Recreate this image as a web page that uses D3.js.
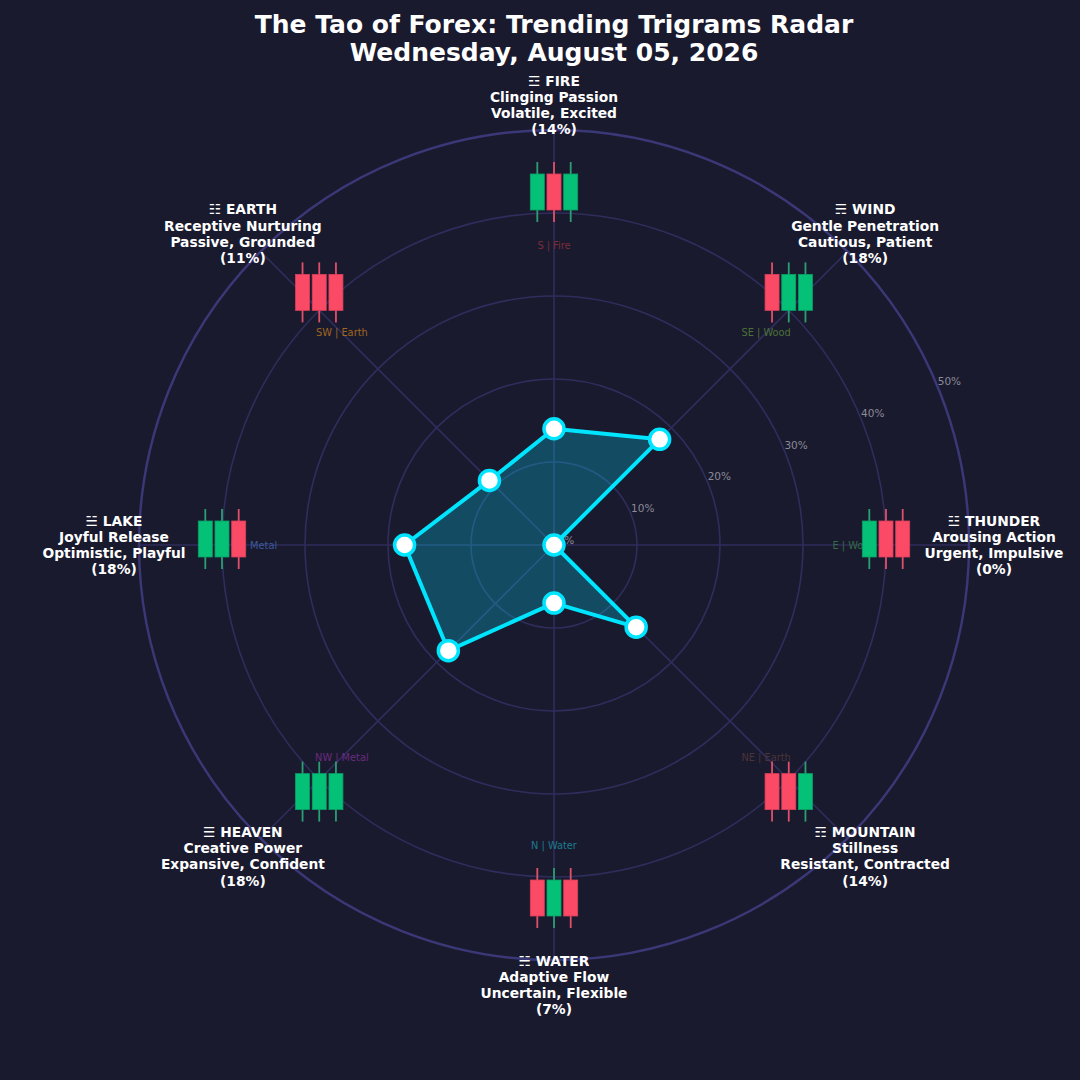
<!DOCTYPE html>
<html>
<head>
<meta charset="utf-8">
<script src="https://cdn.jsdelivr.net/npm/d3@7"></script>
<style>
  html, body { margin: 0; padding: 0; background: #1a1a2e; }
  svg { display: block; }
  text { font-family: "DejaVu Sans", sans-serif; }
</style>
</head>
<body>
<svg id="chart" width="1080" height="1080"></svg>
<script>
// ---------------- DATA ----------------
const titleLines = ["The Tao of Forex: Trending Trigrams Radar", "Wednesday, August 05, 2026"];
const trigrams   = ["FIRE", "WIND", "THUNDER", "MOUNTAIN", "WATER", "HEAVEN", "LAKE", "EARTH"];
const symbols    = ["☲", "☴", "☳", "☶", "☵", "☰", "☱", "☷"];
const qualities  = ["Clinging Passion", "Gentle Penetration", "Arousing Action", "Stillness",
                    "Adaptive Flow", "Creative Power", "Joyful Release", "Receptive Nurturing"];
const moods      = ["Volatile, Excited", "Cautious, Patient", "Urgent, Impulsive", "Resistant, Contracted",
                    "Uncertain, Flexible", "Expansive, Confident", "Optimistic, Playful", "Passive, Grounded"];
const values     = [14, 18, 0, 14, 7, 18, 18, 11];
const directions = ["S | Fire", "SE | Wood", "E | Wood", "NE | Earth", "N | Water", "NW | Metal", "W | Metal", "SW | Earth"];
const dirColors  = ["#7c2c3a", "#4b7038", "#356b45", "#4a3438", "#1b7a8f", "#6a2a80", "#3b5a98", "#a0661e"];
const candles    = [["up","down","up"], ["down","up","up"], ["up","down","down"], ["down","down","up"],
                    ["down","up","down"], ["up","up","up"], ["up","up","down"], ["down","down","down"]];
const rTicks     = [0, 10, 20, 30, 40, 50];

// ---------------- LAYOUT ----------------
const W = 1080, H = 1080;
const cx = 554, cy = 545;
const bg = "#1a1a2e";
const r = d3.scaleLinear().domain([0, 50]).range([0, 415]);
const angle = d3.scaleLinear().domain([0, trigrams.length]).range([0, 2 * Math.PI]);
const px = (i, rad) => cx + rad * Math.sin(angle(i));
const py = (i, rad) => cy - rad * Math.cos(angle(i));

const svg = d3.select("#chart");
svg.append("rect").attr("width", W).attr("height", H).attr("fill", bg);

// grid circles
const g = svg.append("g");
g.selectAll("circle.grid").data(rTicks.filter(t => t > 0 && t < 50)).join("circle")
  .attr("cx", cx).attr("cy", cy).attr("r", d => r(d))
  .attr("fill", "none").attr("stroke", "#2f2d5c").attr("stroke-width", 1.6);
// spokes
g.selectAll("line.spoke").data(trigrams).join("line")
  .attr("x1", cx).attr("y1", cy)
  .attr("x2", (d, i) => px(i, r(50))).attr("y2", (d, i) => py(i, r(50)))
  .attr("stroke", "#2f2d5c").attr("stroke-width", 1.6);
// outer ring
g.append("circle").attr("cx", cx).attr("cy", cy).attr("r", r(50))
  .attr("fill", "none").attr("stroke", "#3b3878").attr("stroke-width", 2.4);

// tick labels (22.5° above east)
const tickAng = Math.PI * 3 / 8;
g.selectAll("text.tick").data(rTicks).join("text")
  .attr("x", d => cx + (r(d) + 13) * Math.sin(tickAng))
  .attr("y", d => cy - (r(d) + 13) * Math.cos(tickAng))
  .attr("text-anchor", "middle").attr("dominant-baseline", "central")
  .attr("font-size", 10.5).attr("fill", "#8a8a99")
  .text(d => d + "%");

// direction labels
g.selectAll("text.dir").data(directions).join("text")
  .attr("x", (d, i) => px(i, 300)).attr("y", (d, i) => py(i, 300))
  .attr("text-anchor", "middle").attr("dominant-baseline", "central")
  .attr("font-size", 9.8).attr("fill", (d, i) => dirColors[i])
  .text(d => d);

// candlestick icons
const colUp = "#05c077", colDown = "#fa4a66";
const wickUp = "#2a9f74", wickDown = "#e0506a";
const bodyW = 14, step = 16.7, bodyH = 36, wickExt = 12;
const cg = svg.append("g");
candles.forEach((set, i) => {
  const gx = cx + 332 * Math.sin(angle(i));
  const gy = cy - 353 * Math.cos(angle(i)) - 6 * Math.sin(angle(i)) * Math.sin(angle(i));
  set.forEach((c, k) => {
    const x = gx + (k - 1) * step;
    cg.append("line")
      .attr("x1", x).attr("x2", x)
      .attr("y1", gy - bodyH / 2 - wickExt).attr("y2", gy + bodyH / 2 + wickExt)
      .attr("stroke", c === "up" ? wickUp : wickDown).attr("stroke-width", 1.8);
    cg.append("rect")
      .attr("x", x - bodyW / 2).attr("y", gy - bodyH / 2)
      .attr("width", bodyW).attr("height", bodyH)
      .attr("fill", c === "up" ? colUp : colDown)
      .attr("stroke", c === "up" ? "#0a9f66" : "#d8405a").attr("stroke-width", 0.8);
  });
});

// radar polygon
const pts = values.map((v, i) => [px(i, r(v)), py(i, r(v))]);
svg.append("path")
  .attr("d", d3.line().curve(d3.curveLinearClosed)(pts))
  .attr("fill", "#00e5ff").attr("fill-opacity", 0.25)
  .attr("stroke", "#00e5ff").attr("stroke-width", 4).attr("stroke-linejoin", "round");
svg.selectAll("circle.pt").data(pts).join("circle")
  .attr("cx", d => d[0]).attr("cy", d => d[1]).attr("r", 10)
  .attr("fill", "#ffffff").attr("stroke", "#00e5ff").attr("stroke-width", 3.5);

// trigram labels
const lh = 16.3;
trigrams.forEach((t, i) => {
  const lines = [symbols[i] + " " + t, qualities[i], moods[i], "(" + values[i] + "%)"];
  const x = px(i, 440), y = py(i, 440);
  const tx = svg.append("text")
    .attr("text-anchor", "middle").attr("font-size", 13.8).attr("font-weight", "bold")
    .attr("fill", "#ffffff");
  lines.forEach((l, k) => {
    tx.append("tspan").attr("x", x)
      .attr("y", y + (k - 1.5) * lh)
      .attr("dominant-baseline", "central")
      .text(l);
  });
});

// title
svg.append("text").attr("text-anchor", "middle").attr("font-size", 25).attr("font-weight", "bold")
  .attr("fill", "#ffffff")
  .selectAll("tspan").data(titleLines).join("tspan")
  .attr("x", 554).attr("y", (d, i) => 33 + i * 28)
  .text(d => d);
</script>
</body>
</html>
